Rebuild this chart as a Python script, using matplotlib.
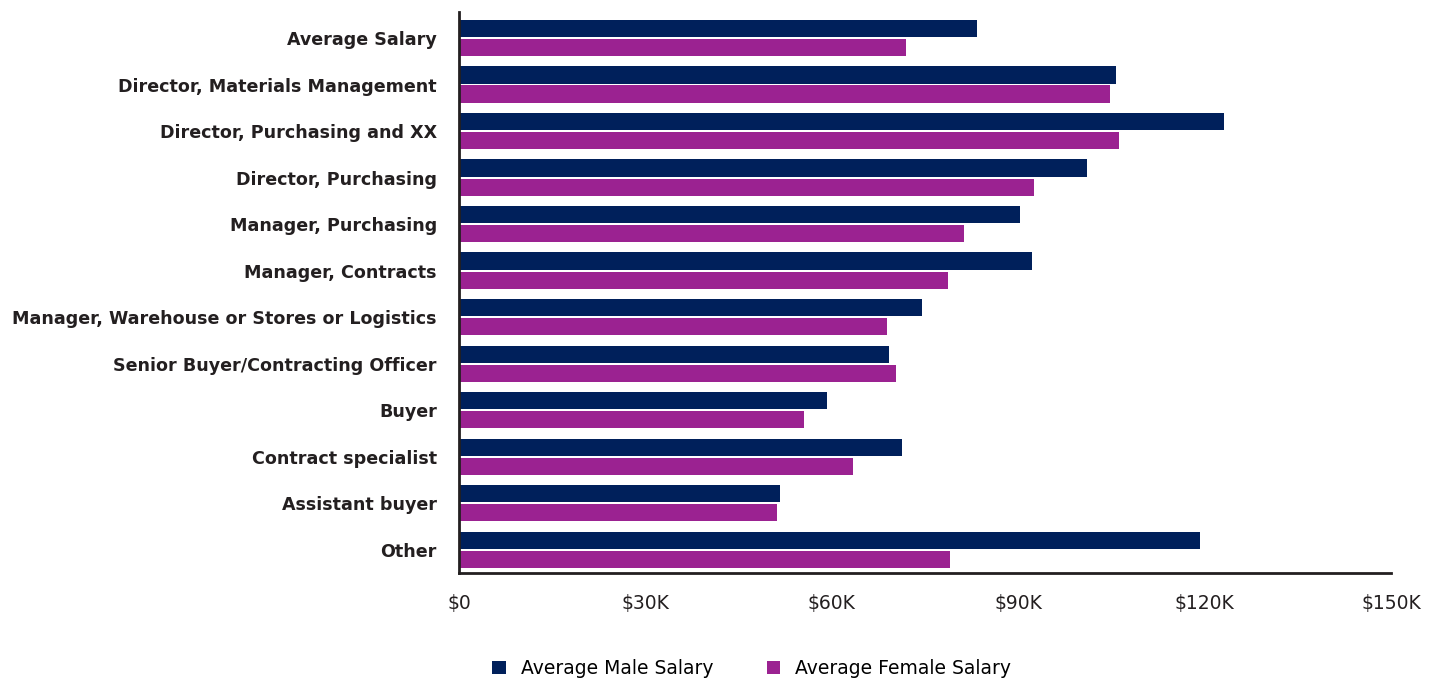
import matplotlib
matplotlib.use("Agg")
import matplotlib.pyplot as plt
import numpy as np

categories = [
    "Average Salary",
    "Director, Materials Management",
    "Director, Purchasing and XX",
    "Director, Purchasing",
    "Manager, Purchasing",
    "Manager, Contracts",
    "Manager, Warehouse or Stores or Logistics",
    "Senior Buyer/Contracting Officer",
    "Buyer",
    "Contract specialist",
    "Assistant buyer",
    "Other",
]
male = [83.4, 105.8, 123.1, 101.0, 90.3, 92.3, 74.5, 69.2, 59.2, 71.3, 51.6, 119.2]
female = [71.9, 104.8, 106.3, 92.6, 81.3, 78.7, 68.9, 70.3, 55.5, 63.4, 51.1, 79.0]
xticks = [0, 30, 60, 90, 120, 150]
xticklabels = ["$0", "$30K", "$60K", "$90K", "$120K", "$150K"]

plt.rcParams['font.family'] = ['DejaVu Sans']

fig = plt.figure(figsize=(14.33, 6.81), dpi=100)
ax = fig.add_axes([459/1433, 1 - 573/681, (1391-459)/1433, (573-12)/681])

y = np.arange(len(categories))
h = 0.37
ax.barh(y - h/2 - 0.02, male, height=h, color="#00205B", label="Average Male Salary")
ax.barh(y + h/2 + 0.02, female, height=h, color="#9B2291", label="Average Female Salary")

ax.set_ylim(11.5, -0.56)
ax.set_xlim(0, 150)
ax.set_yticks(y)
ax.set_yticklabels(categories, fontsize=12.6, fontweight='bold', color="#231F20")
ax.set_xticks(xticks)
ax.set_xticklabels(xticklabels, fontsize=13.5, color="#231F20")
ax.tick_params(axis='both', length=0)
ax.tick_params(axis='y', pad=16)
ax.tick_params(axis='x', pad=15)
for s in ["top", "right"]:
    ax.spines[s].set_visible(False)
for s in ["left", "bottom"]:
    ax.spines[s].set_color("#231F20")
    ax.spines[s].set_linewidth(2)

ax.legend(loc="upper center", bbox_to_anchor=(0.314, -0.124), ncol=2, frameon=False,
          fontsize=13.5, handlelength=0.7, handleheight=0.7, columnspacing=2.86,
          handletextpad=0.8)

fig.savefig("out.png", dpi=100)
